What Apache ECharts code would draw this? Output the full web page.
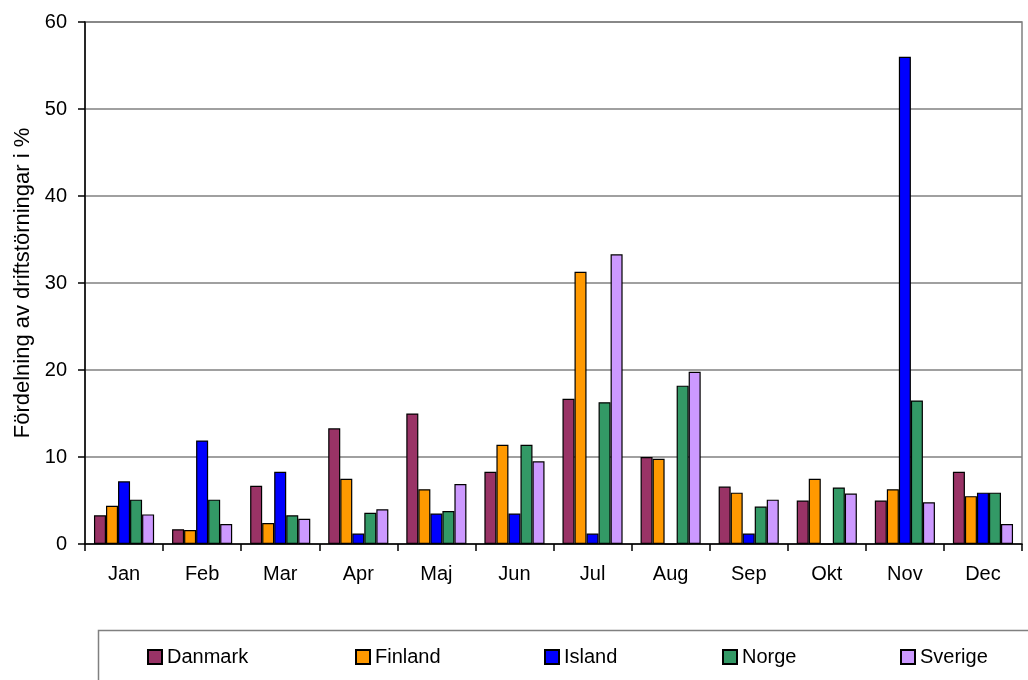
<!DOCTYPE html>
<html><head><meta charset="utf-8">
<script src="https://cdn.jsdelivr.net/npm/echarts@6/dist/echarts.min.js"></script>
<style>html,body{margin:0;padding:0;background:#fff}#c{width:1028px;height:680px}</style>
</head><body><div id="c"></div>
<script>
const months = ['Jan','Feb','Mar','Apr','Maj','Jun','Jul','Aug','Sep','Okt','Nov','Dec'];
const danmark = [3.3, 1.7, 6.7, 13.3, 15.0, 8.3, 16.7, 10.0, 6.6, 5.0, 5.0, 8.3];
const finland = [4.4, 1.6, 2.4, 7.5, 6.3, 11.4, 31.3, 9.8, 5.9, 7.5, 6.3, 5.5];
const island  = [7.2, 11.9, 8.3, 1.2, 3.5, 3.5, 1.2, 0, 1.2, 0, 56.0, 5.9];
const norge   = [5.1, 5.1, 3.3, 3.6, 3.8, 11.4, 16.3, 18.2, 4.3, 6.5, 16.5, 5.9];
const sverige = [3.4, 2.3, 2.9, 4.0, 6.9, 9.5, 33.3, 19.8, 5.1, 5.8, 4.8, 2.3];
const yTicks = [0, 10, 20, 30, 40, 50, 60];

const names = ['Danmark','Finland','Island','Norge','Sverige'];
const values = [danmark, finland, island, norge, sverige];
const colors = ['#993366','#FF9900','#0000FF','#339966','#CC99FF'];
const legendLeft = [147, 355, 544, 722, 900];
const font = '"Liberation Sans", Arial, sans-serif';

const chart = echarts.init(document.getElementById('c'), null, {renderer:'canvas'});
chart.setOption({
  animation: false,
  backgroundColor: '#fff',
  textStyle: {fontFamily: font, color: '#000'},
  grid: {left: 85, top: 22, right: 6, bottom: 136, show: true, borderColor: '#808080', borderWidth: 1.5,
         containLabel: false, outerBoundsMode: 'none'},
  xAxis: {
    type: 'category', data: months,
    axisLine: {lineStyle: {color: '#000', width: 1.5}},
    axisTick: {show: true, length: 7, lineStyle: {color: '#000', width: 1.5}},
    axisLabel: {fontSize: 20, color: '#000', fontFamily: font, margin: 20}
  },
  yAxis: {
    type: 'value', min: yTicks[0], max: yTicks[yTicks.length-1], interval: 10,
    name: 'Fördelning av driftstörningar i %', nameLocation: 'middle', nameGap: 51, nameRotate: 90,
    nameTextStyle: {fontSize: 22, color: '#000', fontFamily: font, padding: [0, 0, 0, 0]},
    axisLine: {show: true, lineStyle: {color: '#000', width: 1.5}},
    axisTick: {show: true, length: 7, lineStyle: {color: '#000', width: 1.5}},
    axisLabel: {fontSize: 20, color: '#000', fontFamily: font, margin: 18},
    splitLine: {show: true, lineStyle: {color: '#808080', width: 1.5}}
  },
  legend: names.map((n, i) => ({
    data: [n], left: legendLeft[i], top: 647, itemWidth: 14, itemHeight: 14, itemGap: 0,
    padding: 0, textStyle: {fontSize: 20, color: '#000', fontFamily: font},
    icon: 'rect'
  })),
  graphic: [{
    type: 'rect', left: 96, top: 628, shape: {width: 1000, height: 100},
    style: {fill: 'none', stroke: '#808080', lineWidth: 1.5}, z: -1
  }],
  series: names.map((n, i) => ({
    name: n, type: 'bar', data: values[i],
    barGap: '0%', barCategoryGap: '23%',
    itemStyle: {color: colors[i], borderColor: '#000', borderWidth: 1.2}
  }))
});
</script></body></html>
